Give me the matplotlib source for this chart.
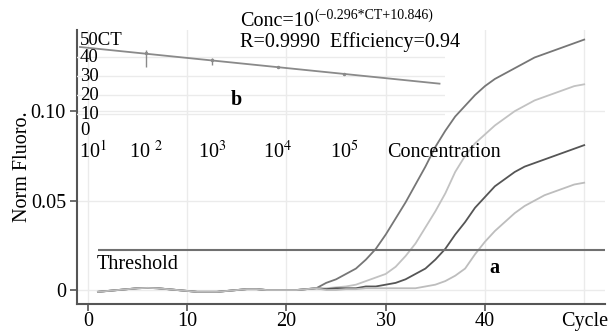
import matplotlib
matplotlib.use("Agg")
import matplotlib.pyplot as plt
import matplotlib.transforms as mtransforms

plt.rcParams['font.family'] = ['Liberation Serif', 'DejaVu Serif']
plt.rcParams['mathtext.fontset'] = 'stix'

FS = 14.5
FS_IN = 13.5

# ---- data ----
cycles = list(range(1, 51))
baseline = [-0.001, -0.0005, 0.0, 0.0005, 0.001, 0.0012, 0.001, 0.0005, 0.0, -0.0005,
            -0.001, -0.001, -0.001, -0.0005, 0.0, 0.0005, 0.0005, 0.0, 0.0, 0.0,
            0.0, 0.0005, 0.001]  # cycles 1..23
curve1_tail = [0.004, 0.006, 0.009, 0.012, 0.017, 0.023, 0.031, 0.040, 0.049, 0.059,
               0.069, 0.080, 0.089, 0.097, 0.103, 0.109, 0.114, 0.118, 0.121, 0.124,
               0.127, 0.130, 0.132, 0.134, 0.136, 0.138, 0.140]  # cycles 24..50
curve2_tail = [0.001, 0.0015, 0.002, 0.003, 0.005, 0.007, 0.009, 0.013, 0.019, 0.026,
               0.035, 0.044, 0.054, 0.066, 0.075, 0.082, 0.087, 0.092, 0.096, 0.100,
               0.103, 0.106, 0.108, 0.110, 0.112, 0.114, 0.115]
curve3_tail = [0.0005, 0.001, 0.001, 0.001, 0.002, 0.002, 0.003, 0.004, 0.006, 0.009,
               0.012, 0.017, 0.023, 0.031, 0.038, 0.046, 0.052, 0.058, 0.062, 0.066,
               0.069, 0.071, 0.073, 0.075, 0.077, 0.079, 0.081]
curve4_tail = [0.0, 0.0, 0.0005, 0.0005, 0.001, 0.001, 0.001, 0.001, 0.001, 0.001,
               0.002, 0.003, 0.005, 0.008, 0.012, 0.020, 0.027, 0.033, 0.038, 0.043,
               0.047, 0.050, 0.053, 0.055, 0.057, 0.059, 0.060]
curve_colors = ['#767676', '#c2c2c2', '#555555', '#bdbdbd']
threshold = 0.0223
threshold_start = 1

std_conc = [1e2, 1e3, 1e4, 1e5]
std_ct = [42.1, 38.4, 34.6, 31.0]
std_ct_low = [34.8, 35.6, 34.0, 30.5]
std_ct_high = [43.6, 39.6, 35.3, 31.5]
fit_conc = [1e1, 10 ** 6.45]
fit_ct = [45.3, 26.0]
inset_xticks = [1e1, 1e2, 1e3, 1e4, 1e5]
inset_xlabels = [r'10$^1$', r'10 $^2$', r'10$^3$', r'10$^4$', r'10$^5$']
inset_yticks = [0, 10, 20, 30, 40, 50]
inset_ylabels = ['0', '10', '20', '30', '40', '50CT']

xticks = [0, 10, 20, 30, 40]
yticks = [0, 0.05, 0.10]
ytick_labels = ['0', '0.05', '0.10']

# ---- figure ----
fig = plt.figure(figsize=(6.13, 3.31), dpi=100)
ax = fig.add_axes([0.1256, 0.0816, 0.8614, 0.8274])
ax.set_xlim(-1.11, 52.1)
ax.set_ylim(-0.0078, 0.1453)

for v in [0, 10, 20, 30, 40, 50]:
    ax.axvline(v, color='#ebebeb', lw=1.0, zorder=0)
for v in yticks:
    ax.axhline(v, color='#ebebeb', lw=1.0, zorder=0)

tails = [curve1_tail, curve2_tail, curve3_tail, curve4_tail]
for tail, col in zip(tails, curve_colors):
    ax.plot(cycles, baseline + tail, color=col, lw=1.3, zorder=3)

ax.hlines(threshold, threshold_start, 52.1, color='#707070', lw=1.5, zorder=4)

ax.spines['top'].set_visible(False)
ax.spines['right'].set_visible(False)
for s in ['left', 'bottom']:
    ax.spines[s].set_color('#555555')
    ax.spines[s].set_linewidth(1.5)

ax.set_xticks(xticks)
ax.set_xticklabels([str(t) for t in xticks])
ax.set_yticks(yticks)
ax.set_yticklabels(ytick_labels)
ax.tick_params(axis='both', labelsize=FS, color='#555555', width=1.2, length=5)
ax.tick_params(axis='x', pad=1)
ax.tick_params(axis='y', pad=3)
ax.set_ylabel('Norm Fluoro.', fontsize=FS, labelpad=-1)

trans_x = mtransforms.blended_transform_factory(ax.transData, ax.transAxes)
ax.text(50, -0.028, 'Cycle', transform=trans_x, ha='center', va='top', fontsize=FS)
ax.text(0.9, 0.0195, 'Threshold', ha='left', va='top', fontsize=FS, zorder=5)
ax.text(41.0, 0.0125, 'a', ha='center', va='center', fontsize=FS, fontweight='bold')

# ---- inset standard curve ----
ins = fig.add_axes([0.1256, 0.598, 0.600, 0.287])
ins.patch.set_alpha(0)
ins.set_xscale('log')
ins.set_xlim(10 ** 0.955, 10 ** 6.53)
ins.set_ylim(0, 50)
for s in ins.spines.values():
    s.set_visible(False)
for v in [10, 20, 30, 40]:
    ins.axhline(v, color='#ebebeb', lw=1.0, zorder=0)
ins.plot(fit_conc, fit_ct, color='#8a8a8a', lw=1.3)
ins.vlines(std_conc, std_ct_low, std_ct_high, color='#8a8a8a', lw=1.0)
ins.plot(std_conc, std_ct, 'o', color='#8a8a8a', ms=1.5)
ins.set_xticks([])
ins.set_yticks([])
ins.minorticks_off()

trans_iy = mtransforms.blended_transform_factory(ins.transAxes, ins.transData)
for v, lab in zip(inset_yticks, inset_ylabels):
    yy = v - 1.5 if v == 50 else (v + 1.5 if v == 0 else v)
    ins.text(0.008, yy, lab, transform=trans_iy, ha='left', va='center', fontsize=FS_IN)

trans_ix = mtransforms.blended_transform_factory(ins.transData, ins.transAxes)
for i, (v, lab) in enumerate(zip(inset_xticks, inset_xlabels)):
    if i == 0:
        ins.text(10 ** 0.98, -0.2, lab, transform=trans_ix, ha='left', va='center', fontsize=FS)
    else:
        ins.text(v, -0.2, lab, transform=trans_ix, ha='center', va='center', fontsize=FS)
ins.text(10 ** 5.65, -0.2, 'Concentration', transform=trans_ix, ha='left', va='center', fontsize=FS)
ins.text(10 ** 3.37, 17.4, 'b', ha='center', va='center', fontsize=FS, fontweight='bold')

t1 = fig.text(240 / 613, 1 - 21 / 331, 'Conc=10', ha='left', va='center', fontsize=FS)
fig.canvas.draw()
bb = t1.get_window_extent()
fig.text(bb.x1 / fig.bbox.width + 0.001, 1 - 15 / 331, '(\u22120.296*CT+10.846)',
         ha='left', va='center', fontsize=10)
fig.text(240 / 613, 1 - 42 / 331, 'R=0.9990  Efficiency=0.94', ha='left', va='center', fontsize=FS)

fig.savefig('out.png', dpi=100)
